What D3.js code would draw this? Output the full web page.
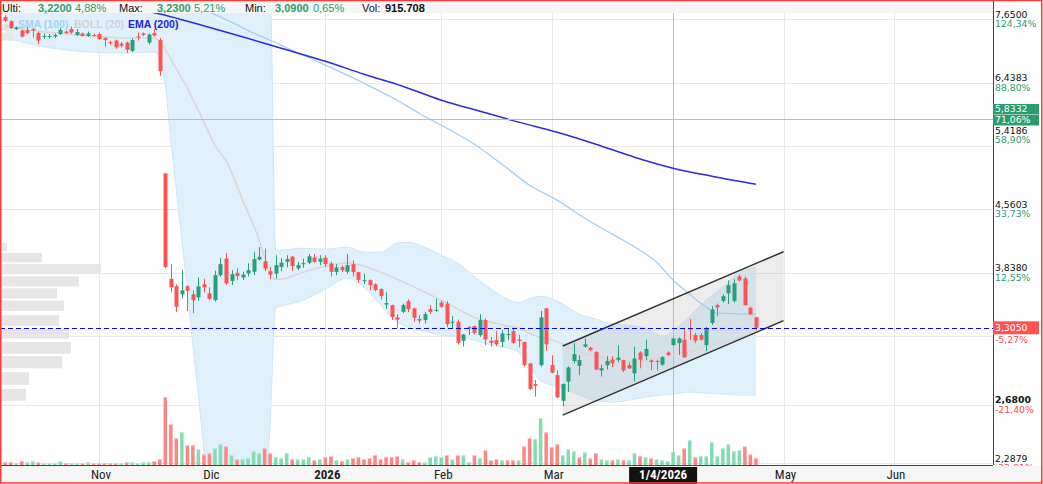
<!DOCTYPE html>
<html><head><meta charset="utf-8">
<script src="https://cdn.jsdelivr.net/npm/d3@7"></script>
<style>body{margin:0;background:#fff;} svg{display:block;}</style>
</head><body><div id="chart"></div>
<script>
// ---------- DATA ----------
const firstDay = "2025-10-09";
const lastDay = "2026-06-30";
const holidays = ["2025-12-25","2025-12-26","2026-01-01","2026-04-03","2026-04-06","2026-05-01"];

const opens = [7.70,7.61,7.45,7.42,7.43,7.45,7.37,7.30,7.30,7.30,
7.35,7.40,7.45,7.33,7.36,7.31,7.33,7.35,7.27,7.19,
7.22,7.16,7.18,7.02,7.30,7.36,7.18,7.37,7.23,5.03,
3.775,3.70,3.62,3.70,3.62,3.59,3.72,3.63,3.563,3.814,
3.99,3.755,3.838,3.79,3.832,3.85,3.98,3.962,3.855,3.83,
3.90,3.955,4.01,3.885,3.93,3.945,4.00,3.955,4.00,3.937,
3.848,3.90,3.85,3.93,3.845,3.752,3.762,3.72,3.672,3.52,
3.515,3.40,3.452,3.553,3.484,3.385,3.375,3.477,3.46,3.54,
3.53,3.35,3.36,3.19,3.30,3.32,3.24,3.375,3.19,3.196,
3.18,3.24,3.275,3.202,3.18,3.00,2.836,2.986,3.484,2.986,
2.906,2.71,2.855,3.019,2.98,3.14,3.13,3.095,2.943,2.985,
3.03,3.03,3.027,2.986,2.92,3.09,3.06,3.025,3.02,2.99,
3.09,3.153,3.17,3.20,3.30,3.24,3.24,3.153,3.35,3.515,
3.556,3.63,3.556,3.80,3.78,3.49,3.40];
const highs = [7.74,7.63,7.50,7.44,7.49,7.47,7.40,7.36,7.35,7.36,
7.47,7.42,7.50,7.45,7.38,7.40,7.36,7.38,7.29,7.22,
7.24,7.19,7.20,7.26,7.38,7.38,7.36,7.45,7.27,5.03,
3.93,3.72,3.87,3.71,3.66,3.79,3.775,3.69,3.86,3.995,
4.05,3.866,3.887,3.85,3.937,4.064,4.117,4.10,3.90,4.027,
3.995,4.027,4.02,3.955,3.99,4.04,4.04,4.027,4.027,3.955,
3.93,3.919,4.04,3.97,3.85,3.83,3.77,3.73,3.68,3.64,
3.52,3.43,3.53,3.572,3.49,3.42,3.452,3.515,3.578,3.56,
3.553,3.412,3.38,3.25,3.32,3.325,3.43,3.39,3.225,3.278,
3.284,3.30,3.30,3.245,3.18,3.00,2.867,3.46,3.49,3.068,
2.946,2.84,2.975,3.17,3.068,3.21,3.14,3.10,2.99,3.06,
3.06,3.153,3.03,3.01,3.14,3.10,3.20,3.03,3.03,3.06,
3.10,3.215,3.22,3.30,3.385,3.26,3.26,3.315,3.505,3.53,
3.62,3.76,3.77,3.82,3.80,3.50,3.405];
const lows = [7.60,7.45,7.43,7.28,7.34,7.28,7.15,7.25,7.26,7.27,
7.33,7.35,7.35,7.31,7.30,7.29,7.30,7.24,7.10,7.14,
7.06,7.09,6.98,7.00,7.22,7.31,7.14,7.30,6.56,3.89,
3.64,3.45,3.58,3.46,3.44,3.556,3.64,3.56,3.55,3.796,
3.712,3.712,3.762,3.762,3.80,3.814,3.97,3.855,3.77,3.78,
3.855,3.895,3.86,3.866,3.89,3.93,3.945,3.919,3.90,3.80,
3.814,3.848,3.83,3.80,3.735,3.722,3.662,3.65,3.57,3.48,
3.375,3.305,3.44,3.45,3.36,3.344,3.344,3.43,3.452,3.49,
3.31,3.30,3.158,3.14,3.24,3.245,3.225,3.153,3.14,3.145,
3.135,3.196,3.165,3.135,2.975,2.79,2.74,2.973,3.103,2.92,
2.73,2.67,2.776,3.00,2.906,3.13,3.10,2.946,2.895,2.95,
2.97,3.01,2.93,2.955,2.855,2.96,3.027,2.945,2.94,2.98,
3.06,3.15,3.07,3.045,3.196,3.17,3.19,3.10,3.33,3.41,
3.54,3.525,3.54,3.75,3.51,3.42,3.284];
const closes = [7.62,7.47,7.48,7.30,7.37,7.42,7.22,7.31,7.31,7.33,
7.43,7.37,7.38,7.39,7.31,7.36,7.32,7.25,7.23,7.17,
7.09,7.12,7.04,7.23,7.29,7.33,7.34,7.32,6.64,3.90,
3.69,3.50,3.66,3.655,3.563,3.70,3.688,3.576,3.814,3.93,
3.73,3.824,3.804,3.82,3.866,3.984,4.01,3.882,3.82,3.919,
3.945,3.985,3.91,3.919,3.94,4.015,3.955,3.99,3.93,3.848,
3.895,3.866,3.919,3.845,3.765,3.762,3.712,3.662,3.602,3.535,
3.405,3.38,3.515,3.477,3.397,3.37,3.43,3.452,3.47,3.50,
3.338,3.36,3.173,3.245,3.31,3.26,3.375,3.202,3.173,3.16,
3.255,3.25,3.173,3.19,2.986,2.798,2.823,3.40,3.16,2.925,
2.735,2.836,2.967,3.076,3.027,3.16,3.11,2.95,2.96,3.02,
3.00,3.047,2.943,2.959,3.04,3.03,3.12,3.012,3.015,3.05,
3.07,3.21,3.21,3.05,3.29,3.19,3.20,3.30,3.474,3.494,
3.602,3.712,3.73,3.76,3.515,3.43,3.305];
// volume, thousands of shares
const volumes = [350,350,220,520,350,520,350,220,220,220,
520,220,220,220,220,350,220,220,220,220,
220,220,350,350,220,350,350,520,740,8800,
5330,3470,4250,2560,2560,2040,1390,1520,2170,2690,
2430,1260,740,740,870,1780,1520,2170,1520,1000,
870,1520,740,740,780,1040,650,780,1040,1170,
650,520,780,910,1040,780,910,1300,740,1040,
1040,1170,740,390,610,390,350,1040,1130,1040,
1300,740,1300,1260,390,1300,910,1910,610,740,
610,610,610,610,2430,3510,3340,6070,4250,2300,
2690,1260,2040,1780,1000,1650,870,1560,740,610,
610,740,610,610,1520,1130,1000,870,740,610,
520,1690,1260,2170,3210,1000,1130,1130,2950,1130,
2170,2690,1780,1910,2430,1390,916];

// Bollinger (20), at these bar numbers
const bbAt = [0,5,10,17,22,27,28,29,30,31,32,33,34,35,36,37,38,40,43,46,47,48,49,50,54,58,62,65,68,71,73,76,79,82,85,88,91,93,95,97,99,101,104,107,110,113,116,119,121,124,127,130,133,136];
const bbUpper = [7.9,7.9,7.88,7.85,7.82,7.82,7.9,8.9,9.3,9.6,9.8,9.9,10,10,10,10,10,10,10,10,9.5,8.5,4.08,4.082,4.104,4.093,4.115,4.06,4.06,4.16,4.17,4.115,4.027,3.94,3.80,3.672,3.572,3.54,3.58,3.60,3.58,3.525,3.43,3.385,3.34,3.329,3.30,3.23,3.276,3.41,3.563,3.69,3.84,3.895];
const bbMid = [7.52,7.42,7.36,7.30,7.27,7.27,7.21,7.05,6.87,6.69,6.51,6.35,6.15,5.97,5.78,5.60,5.43,5.21,4.68,4.195,4.00,3.82,3.77,3.772,3.845,3.908,3.944,3.908,3.845,3.772,3.722,3.642,3.563,3.477,3.40,3.357,3.32,3.305,3.257,3.218,3.20,3.162,3.093,3.06,3.027,3.02,3.027,3.05,3.068,3.10,3.136,3.18,3.218,3.284];
const bbLower = [7.28,7.14,7.05,6.99,6.98,7.00,6.85,6.40,5.50,4.81,4.20,3.66,3.15,2.75,2.37,2.05,1.8,1.8,1.8,1.8,2.0,2.56,3.49,3.506,3.563,3.672,3.783,3.692,3.515,3.357,3.311,3.275,3.24,3.227,3.196,3.153,3.127,3.093,2.978,2.86,2.828,2.805,2.752,2.71,2.70,2.715,2.737,2.752,2.76,2.775,2.767,2.76,2.752,2.752];

// SMA (100) and EMA (200)
const smaAt = [36,38,41,45,48,52,56,60,65,70,75,80,85,90,95,100,105,110,115,118,121,124,127,129,136];
const smaVal = [7.84,7.75,7.59,7.37,7.226,7.03,6.844,6.661,6.428,6.188,5.925,5.688,5.446,5.157,4.871,4.677,4.453,4.264,4.082,3.951,3.762,3.622,3.496,3.440,3.431];
const emaAt = [20,29,35,42,50,58,65,72,79,86,93,100,107,114,121,128,136];
const emaVal = [7.95,7.734,7.546,7.325,7.07,6.825,6.588,6.377,6.138,5.957,5.783,5.626,5.446,5.257,5.102,4.992,4.884];

// volume profile (price bins, relative volume)
const profLow  = [7.42,7.22,4.07,3.95,3.83,3.70,3.58,3.46,3.32,3.21,3.08,2.96,2.83,2.71];
const profHigh = [7.56,7.38,4.165,4.05,3.93,3.80,3.68,3.56,3.42,3.30,3.18,3.06,2.93,2.80];
const profVol  = [9,12,6,41,100,78,56,63,58,68,70,61,28,25];

// trend channel
const channelDays = ["2026-03-04","2026-05-04"];
const channelUpper = [3.145, 4.065];
const channelLower = [2.606, 3.370];

// price axis
const tickValues = [7.65, 6.4383, 5.4186, 4.5603, 3.838, 3.23, 2.68, 2.2879];
const tickLabels = ["7,6500","6,4383","5,4186","4,5603","3,8380","","2,6800","2,2879"];
const tickPct    = ["124,34%","88,80%","58,90%","33,73%","12,55%","","-21,40%","-32,91%"];

// time axis (April label is covered by the crosshair date box)
const monthKeys   = ["2025-11","2025-12","2026-01","2026-02","2026-03","2026-04","2026-05","2026-06"];
const monthLabels = ["Nov","Dic","2026","Feb","Mar","","May","Jun"];

// markers
const markerPrice = 5.8332, markerText = "5,8332", markerPct = "71,06%";
const lastPrice = 3.305, lastText = "3,3050", lastPct = "-5,27%";
const crossDay = "2026-04-01", crossText = "1/4/2026";

const headerItems = [
  ["Ulti:", "#111", 400], ["3,2200", "#2f9c6c", 700], ["4,88%", "#2f9c6c", 400],
  ["Max:", "#111", 400], ["3,2300", "#2f9c6c", 700], ["5,21%", "#2f9c6c", 400],
  ["Min:", "#111", 400], ["3,0900", "#2f9c6c", 700], ["0,65%", "#2f9c6c", 400],
  ["Vol:", "#111", 400], ["915.708", "#111", 700]];
const headerX = [2, 38, 75, 119, 157, 194, 245, 275, 313, 362, 385];

const legendItems = [["SMA (100)", "#a3d2f3"], ["BOLL (20)", "#d2d2d2"], ["EMA (200)", "#2222e0"]];
const legendX = [18, 74, 128];

// ---------- LAYOUT ----------
const W = 1043, H = 484;
const plotRight = 993, plotTop = 13, plotBottom = 465;
const step = 5.52, firstCenter = 5.2;
const sansNarrow = "'Liberation Sans Narrow','Arial Narrow','Roboto Condensed',sans-serif";
const sans = "'Liberation Sans',Arial,sans-serif";

const fmtDay = d3.utcFormat("%Y-%m-%d"), parseDay = d3.utcParse("%Y-%m-%d");
const allDays = d3.utcDays(parseDay(firstDay), d3.utcDay.offset(parseDay(lastDay), 1))
  .filter(d => d.getUTCDay() !== 0 && d.getUTCDay() !== 6 && !holidays.includes(fmtDay(d)))
  .map(fmtDay);

const x = d3.scaleBand().domain(allDays)
  .range([firstCenter - step / 2, firstCenter - step / 2 + allDays.length * step]).padding(0);
const xc = day => x(day) + x.bandwidth() / 2;
const xi = i => xc(allDays[i]);

const y = d3.scaleLog().domain([2.2879, 7.65]).range([463, 19.3]);
const yv = d3.scaleLinear().domain([0, 10000]).range([plotBottom, plotBottom - 77]);
const xp = d3.scaleLinear().domain([0, 100]).range([1, 101]);

const candles = closes.map((c, i) => ({
  day: allDays[i], o: opens[i], h: highs[i], l: lows[i], c, v: volumes[i],
  volUp: i === 0 ? c >= opens[i] : c >= closes[i - 1]
}));

const svg = d3.select("#chart").append("svg").attr("width", W).attr("height", H)
  .style("font-family", sans);
svg.append("rect").attr("width", W).attr("height", H).attr("fill", "#fff");

const defs = svg.append("defs");
defs.append("clipPath").attr("id", "plotClip").append("rect")
  .attr("x", 1).attr("y", plotTop).attr("width", plotRight - 1).attr("height", plotBottom - plotTop);

const plot = svg.append("g").attr("clip-path", "url(#plotClip)");

// grid
plot.append("g").selectAll("line").data(tickValues).join("line")
  .attr("x1", 0).attr("x2", plotRight)
  .attr("y1", d => Math.round(y(d)) + 0.5).attr("y2", d => Math.round(y(d)) + 0.5)
  .attr("stroke", "#e8e8e8");
const monthDays = monthKeys.map(k => allDays.find(d => d.startsWith(k)));
plot.append("g").selectAll("line").data(monthDays.filter(d => d !== crossDay)).join("line")
  .attr("x1", d => Math.round(xc(d)) + 0.5).attr("x2", d => Math.round(xc(d)) + 0.5)
  .attr("y1", plotTop).attr("y2", plotBottom).attr("stroke", "#e8e8e8");

// Bollinger band
const bbPts = bbAt.map((b, k) => ({ x: xi(b), u: bbUpper[k], m: bbMid[k], l: bbLower[k] }));
plot.append("path").datum(bbPts)
  .attr("d", d3.area().x(d => d.x).y0(d => y(d.l)).y1(d => y(d.u)).curve(d3.curveMonotoneX))
  .attr("fill", "#dff0fb");
["u", "l"].forEach(key => {
  plot.append("path").datum(bbPts)
    .attr("d", d3.line().x(d => d.x).y(d => y(d[key])).curve(d3.curveMonotoneX))
    .attr("fill", "none").attr("stroke", "#cfe6f8").attr("stroke-width", 1);
});

// volume profile
plot.append("g").selectAll("rect").data(profVol).join("rect")
  .attr("x", xp(0)).attr("width", d => xp(d) - xp(0))
  .attr("y", (d, k) => y(profHigh[k])).attr("height", (d, k) => y(profLow[k]) - y(profHigh[k]))
  .attr("fill", "#e6e6e6");

// volume bars
const vg = plot.append("g");
vg.selectAll("rect.vb").data(candles).join("rect").attr("class", "vb")
  .attr("x", d => xc(d.day) - 1.75).attr("width", 3.5)
  .attr("y", d => yv(d.v)).attr("height", d => yv(0) - yv(d.v))
  .attr("fill", d => d.volUp ? "#82dcb1" : "#ff8585");
vg.selectAll("rect.vt").data(candles).join("rect").attr("class", "vt")
  .attr("x", d => xc(d.day) - 1.75).attr("width", 3.5)
  .attr("y", d => yv(d.v)).attr("height", 1)
  .attr("fill", d => d.volUp ? "#bdeed6" : "#ffc2c2");

// channel fill
const chU = channelDays.map((d, k) => [xc(d), y(channelUpper[k])]);
const chL = channelDays.map((d, k) => [xc(d), y(channelLower[k])]);
plot.append("path")
  .attr("d", d3.line()([chU[0], chU[1], chL[1], chL[0]]) + "Z")
  .attr("fill", "#b8b8b8").attr("fill-opacity", 0.27);

// crosshair vertical
plot.append("line").attr("x1", Math.round(xc(crossDay)) + 0.5).attr("x2", Math.round(xc(crossDay)) + 0.5)
  .attr("y1", plotTop).attr("y2", plotBottom).attr("stroke", "#f2a4a4").attr("stroke-width", 1);

// BB middle, SMA, EMA
plot.append("path").datum(bbPts)
  .attr("d", d3.line().x(d => d.x).y(d => y(d.m)).curve(d3.curveMonotoneX))
  .attr("fill", "none").attr("stroke", "#dcd6d6").attr("stroke-width", 1.6);
plot.append("path").datum(smaAt.map((b, k) => [xi(b), y(smaVal[k])]))
  .attr("d", d3.line().curve(d3.curveMonotoneX))
  .attr("fill", "none").attr("stroke", "#9fd0f2").attr("stroke-width", 1.3);
plot.append("path").datum(emaAt.map((b, k) => [xi(b), y(emaVal[k])]))
  .attr("d", d3.line().curve(d3.curveMonotoneX))
  .attr("fill", "none").attr("stroke", "#2b2be0").attr("stroke-width", 1.5);

// channel lines
[chU, chL].forEach(pts => plot.append("path").attr("d", d3.line()(pts))
  .attr("fill", "none").attr("stroke", "#333").attr("stroke-width", 1.5));

// marker line 5.8332
plot.append("line").attr("x1", 0).attr("x2", plotRight)
  .attr("y1", Math.round(y(markerPrice)) + 0.5).attr("y2", Math.round(y(markerPrice)) + 0.5)
  .attr("stroke", "#f3a3a3");

// candles
const cg = plot.append("g");
const up = d => d.c >= d.o;
cg.selectAll("line").data(candles).join("line")
  .attr("x1", d => Math.round(xc(d.day)) + 0.5).attr("x2", d => Math.round(xc(d.day)) + 0.5)
  .attr("y1", d => y(d.h)).attr("y2", d => y(d.l))
  .attr("stroke", d => up(d) ? "#26a07a" : "#ff5252").attr("stroke-width", 1);
cg.selectAll("rect").data(candles).join("rect")
  .attr("x", d => Math.round(xc(d.day)) - 1.5).attr("width", 4)
  .attr("y", d => y(Math.max(d.o, d.c)))
  .attr("height", d => Math.max(1, y(Math.min(d.o, d.c)) - y(Math.max(d.o, d.c))))
  .attr("fill", d => up(d) ? "#26a07a" : "#ff5252");

// last price dashed
plot.append("line").attr("x1", 0).attr("x2", plotRight)
  .attr("y1", Math.round(y(lastPrice)) + 0.5).attr("y2", Math.round(y(lastPrice)) + 0.5)
  .attr("stroke", "#0000ff").attr("stroke-width", 1.2).attr("stroke-dasharray", "5,3");

// header strip
svg.append("rect").attr("x", 1).attr("y", 1).attr("width", plotRight - 1).attr("height", plotTop - 1)
  .attr("fill", "#f6f6f6");
svg.append("g").selectAll("text").data(headerItems).join("text")
  .attr("x", (d, k) => headerX[k]).attr("y", 11.5)
  .attr("font-size", 11).attr("font-weight", d => d[2]).attr("fill", d => d[1])
  .text(d => d[0]);

// legend
svg.append("g").selectAll("text").data(legendItems).join("text")
  .attr("x", (d, k) => legendX[k]).attr("y", 28)
  .attr("font-size", 10.5).attr("font-weight", 700).attr("fill", d => d[1])
  .text(d => d[0]);

// axes lines
svg.append("line").attr("x1", plotRight + 0.5).attr("x2", plotRight + 0.5).attr("y1", 0).attr("y2", plotBottom)
  .attr("stroke", "#444");
svg.append("line").attr("x1", 0).attr("x2", plotRight).attr("y1", plotBottom + 0.5).attr("y2", plotBottom + 0.5)
  .attr("stroke", "#444");

// right axis labels
const ax = svg.append("g").style("font-family", "'DejaVu Sans',sans-serif").attr("font-size", 9.3);
tickValues.forEach((v, k) => {
  if (!tickLabels[k]) return;
  const ty = y(v) + (v === 5.4186 ? -11 : 0);
  ax.append("text").attr("x", 995).attr("y", ty - 1.5).attr("fill", "#111")
    .attr("font-weight", v === 2.68 ? 700 : 400).text(tickLabels[k]);
  ax.append("text").attr("x", 995).attr("y", ty + 8)
    .attr("fill", tickPct[k].startsWith("-") ? "#f25050" : "#2f9c6c").text(tickPct[k]);
});
// marker boxes
const my = y(markerPrice);
ax.append("rect").attr("x", 993).attr("y", my - 15).attr("width", 46).attr("height", 10.5).attr("fill", "#2a9d6e");
ax.append("rect").attr("x", 993).attr("y", my - 4).attr("width", 46).attr("height", 10.5).attr("fill", "#2a9d6e");
ax.append("text").attr("x", 995).attr("y", my - 6.5).attr("fill", "#fff").text(markerText);
ax.append("text").attr("x", 995).attr("y", my + 4.5).attr("fill", "#fff").text(markerPct);
const ly = y(lastPrice);
ax.append("rect").attr("x", 993).attr("y", ly - 6.5).attr("width", 46).attr("height", 13).attr("fill", "#ff5252");
ax.append("text").attr("x", 995).attr("y", ly + 3.5).attr("fill", "#fff").text(lastText);
ax.append("text").attr("x", 995).attr("y", ly + 15).attr("fill", "#f25050").text(lastPct);

// bottom strip & month labels
svg.append("rect").attr("x", 0).attr("y", plotBottom + 1).attr("width", W).attr("height", H - plotBottom - 1)
  .attr("fill", "#f6f6f6");
svg.append("g").selectAll("text").data(monthDays.filter((d, k) => monthLabels[k])).join("text")
  .attr("x", d => xc(d) + 2).attr("y", 479).attr("text-anchor", "middle")
  .style("font-family", sansNarrow).attr("font-size", 13)
  .attr("font-weight", d => monthLabels[monthDays.indexOf(d)] === "2026" ? 700 : 400)
  .attr("fill", "#222").text(d => monthLabels[monthDays.indexOf(d)]);
// crosshair date box
const cx = xc(crossDay);
svg.append("rect").attr("x", cx - 44).attr("y", plotBottom + 2).attr("width", 68).attr("height", H - plotBottom - 2)
  .attr("fill", "#111");
svg.append("text").attr("x", cx - 10).attr("y", 479).attr("text-anchor", "middle")
  .style("font-family", sansNarrow).attr("font-size", 13).attr("font-weight", 700)
  .attr("fill", "#fff").text(crossText);

// outer red border
svg.append("rect").attr("x", 0.75).attr("y", 0.5).attr("width", 1041).attr("height", 482.5)
  .attr("fill", "none").attr("stroke", "#ff3b3b").attr("stroke-width", 1.5);
</script>
</body></html>
